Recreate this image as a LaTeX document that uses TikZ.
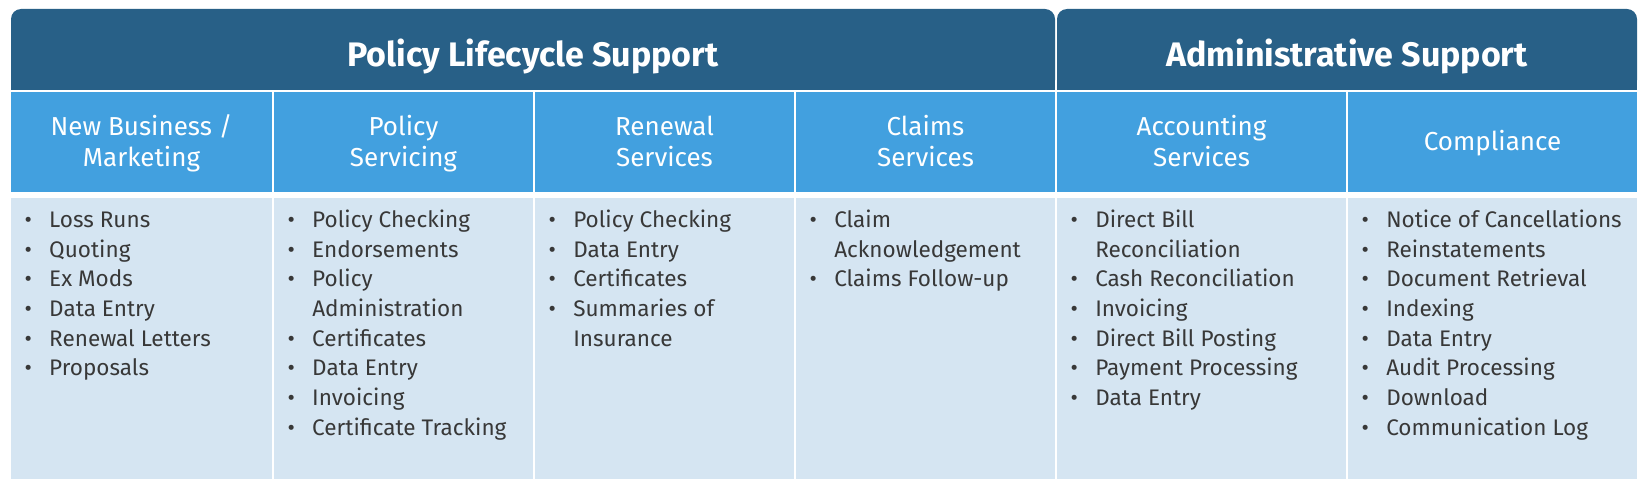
\documentclass[tikz,border=0pt]{standalone}
\usepackage{fontspec}
\setmainfont{Fira Sans}
\definecolor{dk}{HTML}{286087}
\definecolor{bl}{HTML}{42A0DF}
\definecolor{bd}{HTML}{D5E5F2}
\definecolor{tx}{HTML}{383838}
\newcommand\bul{\makebox[6pt][c]{\textbullet}\hspace{12.75pt}}
\newcommand\cnt{\hspace*{18.75pt}}
\newcommand\stt{\rule{0pt}{16pt}}
\newcommand\hst{\rule{0pt}{17pt}}
\tikzset{
  titletext/.style={text=white, inner sep=0pt, anchor=base, font=\fontsize{25.5}{30}\selectfont\bfseries},
  headtext/.style={text=white, inner sep=0pt, anchor=north, align=center, font=\fontsize{19.5}{23.7}\selectfont},
  bodytext/.style={text=tx, inner sep=0pt, anchor=north west, align=left, font=\fontsize{16.9}{22.3}\selectfont},
}
\begin{document}
\begin{tikzpicture}[x=0.75pt,y=-0.75pt]
\useasboundingbox (0,0) rectangle (1650,492);
\fill[white] (0,0) rectangle (1650,492);
% dark title bars
\fill[dk, rounded corners=7.5pt] (11,9) rectangle (1055,90);
\fill[dk] (11,50) rectangle (1055,90);
\fill[dk, rounded corners=7.5pt] (1057,9) rectangle (1637,90);
\fill[dk] (1057,50) rectangle (1637,90);
\node[titletext] (t1) at (533,67) {Policy Lifecycle Support};
\node[titletext] (t2) at (1347,67) {Administrative Support};
% cells
\foreach \xl/\xr in {11/272, 274/533, 535/794, 796/1055, 1057/1346, 1348/1637}{
  \fill[bl] (\xl,92) rectangle (\xr,191.7);
  \fill[bd] (\xl,197.7) rectangle (\xr,479.3);
}
% headers (first baseline 135)
\node[headtext] (h1) at (141.5,112.3) {\hst New Business /\\Marketing};
\node[headtext] (h2) at (403.5,112.3) {\hst Policy\\Servicing};
\node[headtext] (h3) at (664.5,112.3) {\hst Renewal\\Services};
\node[headtext] (h4) at (925.5,112.3) {\hst Claims\\Services};
\node[headtext] (h5) at (1201.5,112.3) {\hst Accounting\\Services};
\node[headtext] (h6) at (1492.5,127.3) {\hst Compliance};
% bodies (first baseline 226)
\node[bodytext] (b1) at (24,205.7) {\stt\bul Loss Runs\\\bul Quoting\\\bul Ex Mods\\\bul Data Entry\\\bul Renewal Letters\\\bul Proposals};
\node[bodytext] (b2) at (287,205.7) {\stt\bul Policy Checking\\\bul Endorsements\\\bul Policy\\\cnt Administration\\\bul Certificates\\\bul Data Entry\\\bul Invoicing\\\bul Certificate Tracking};
\node[bodytext] (b3) at (548,205.7) {\stt\bul Policy Checking\\\bul Data Entry\\\bul Certificates\\\bul Summaries of\\\cnt Insurance};
\node[bodytext] (b4) at (809,205.7) {\stt\bul Claim\\\cnt Acknowledgement\\\bul Claims Follow-up};
\node[bodytext] (b5) at (1070,205.7) {\stt\bul Direct Bill\\\cnt Reconciliation\\\bul Cash Reconciliation\\\bul Invoicing\\\bul Direct Bill Posting\\\bul Payment Processing\\\bul Data Entry};
\node[bodytext] (b6) at (1361,205.7) {\stt\bul Notice of Cancellations\\\bul Reinstatements\\\bul Document Retrieval\\\bul Indexing\\\bul Data Entry\\\bul Audit Processing\\\bul Download\\\bul Communication Log};
\end{tikzpicture}
\end{document}
